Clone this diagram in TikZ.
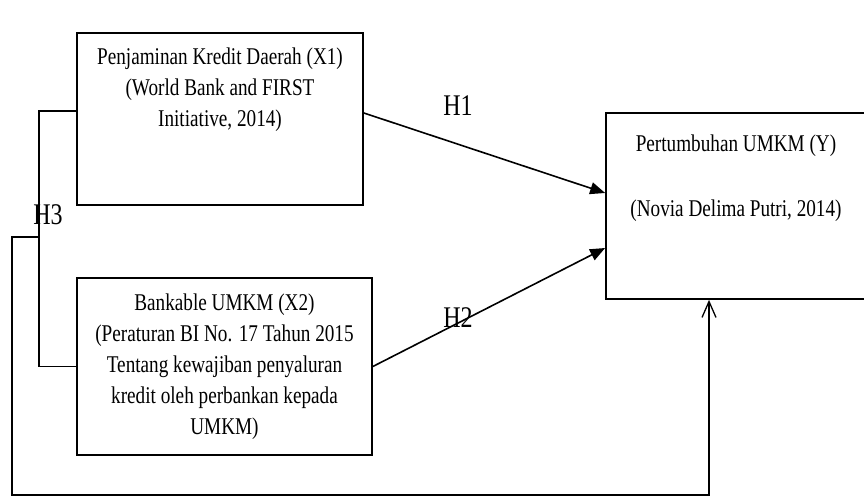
\documentclass[tikz,border=0pt]{standalone}
\usepackage{fontspec}
\setmainfont{Liberation Serif}
\newfontfamily\narrowserif[FakeStretch=0.8]{Liberation Serif}
\usetikzlibrary{positioning,arrows.meta,calc}

\begin{document}
\begin{tikzpicture}[x=1pt,y=-1pt,
  font=\narrowserif\fontsize{24}{31}\selectfont,
  varbox/.style={rectangle,draw,line width=1.7pt,inner sep=0pt},
  boxtext/.style={align=center,inner sep=0pt},
  hyplabel/.style={font=\narrowserif\fontsize{30}{30}\selectfont,inner sep=0pt},
  arr/.style={-{Triangle[length=15pt,width=12pt]},line width=1.6pt},
  link/.style={line width=1.3pt},
  openarr/.style={-{Straight Barb[length=16pt,width=14pt]},line width=1.3pt},
]
\useasboundingbox (0,0) rectangle (864,502);
% Variable boxes
\node[varbox,minimum width=286pt,minimum height=172pt] (x1) at (220,119) {};
\node[varbox,minimum width=295pt,minimum height=177pt] (x2) at (224.5,366.5) {};
\node[varbox,minimum width=260pt,minimum height=186pt] (y) at (736,206) {};

% Box texts
\node[boxtext,below=16pt of x1.north] (x1txt) {Penjaminan Kredit Daerah (X1)\\(World Bank and FIRST\\Initiative, 2014)};
\node[boxtext] (x2txt) at (x2.center) {Bankable UMKM (X2)\\(Peraturan BI No. 17 Tahun 2015\\Tentang kewajiban penyaluran\\kredit oleh perbankan kepada\\UMKM)};
\node[boxtext,below=22pt of y.north] (ytxt) {Pertumbuhan UMKM (Y)\\[34pt](Novia Delima Putri, 2014)};

% Hypothesis paths
\draw[arr] ($(x1.east)+(0,-6)$) -- ($(y.west)+(0,-13)$);
\draw[arr] (x2.east) -- ($(y.west)+(0,42)$);
\node[hyplabel] (h1) at (458,106) {H1};
\node[hyplabel] (h2) at (458,318) {H2};

% H3 bracket and loop
\coordinate (h3bar) at (39,237);
\coordinate (loopcorner) at (12,495);
\draw[link] ($(x1.west)+(0,-8)$) -| (h3bar) |- (x2.west);
\draw[openarr] (h3bar) -| (loopcorner) -| ([xshift=-27pt]y.south);
\node[hyplabel] (h3) at (48,215) {H3};
\end{tikzpicture}
\end{document}
